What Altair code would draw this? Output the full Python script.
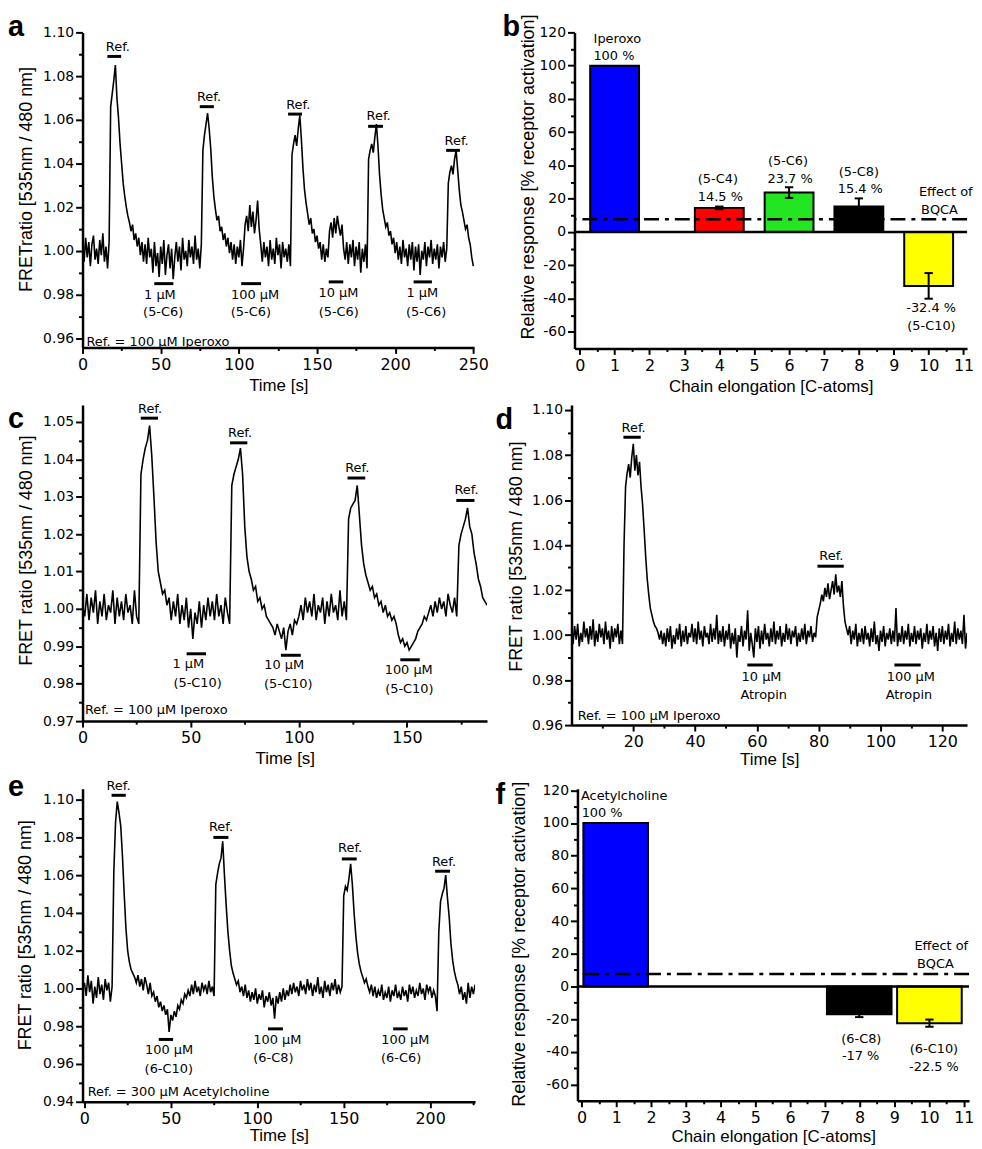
import altair as alt
import pandas as pd

FONT_T = "Liberation Sans"
FONT_L = "DejaVu Sans"

# ---------------- traces (FRET ratio) ----------------
a_dt = 1.0
a_vals = [
    1.002, 0.995, 1.006, 0.997, 1.004, 0.993, 1.003, 1.007, 0.996, 1.001,
    0.994, 1.005, 0.998, 1.008, 0.995, 1.002, 0.992, 1.004, 1.066, 1.072,
    1.078, 1.085, 1.070, 1.061, 1.049, 1.040, 1.031, 1.025, 1.020, 1.016,
    1.013, 1.009, 1.012, 1.005, 1.008, 1.002, 1.006, 0.998, 1.004, 0.995,
    1.003, 0.994, 1.006, 0.997, 1.001, 0.990, 1.004, 0.993, 0.999, 0.988,
    1.002, 0.994, 1.005, 0.989, 0.998, 1.003, 0.992, 1.001, 0.987, 0.997,
    1.004, 0.995, 1.002, 0.991, 1.006, 0.996, 1.000, 0.993, 1.005, 0.997,
    1.002, 0.994, 1.007, 0.996, 1.001, 0.992, 1.003, 1.046, 1.053, 1.058,
    1.063, 1.056, 1.047, 1.034, 1.025, 1.019, 1.014, 1.016, 1.009, 1.011,
    1.005, 1.008, 1.002, 1.006, 0.999, 1.004, 0.996, 1.003, 0.994, 1.002,
    0.997, 1.005, 0.993, 1.001, 1.012, 1.016, 1.009, 1.021, 1.011, 1.018,
    1.008, 1.014, 1.023, 1.010, 1.003, 0.995, 1.004, 0.997, 1.002, 0.993,
    1.005, 0.996, 1.001, 0.994, 1.006, 0.998, 1.003, 0.992, 1.004, 0.997,
    1.001, 0.995, 1.003, 0.993, 1.044, 1.049, 1.053, 1.048, 1.056, 1.062,
    1.051, 1.038, 1.028, 1.022, 1.017, 1.012, 1.015, 1.008, 1.010, 1.004,
    1.007, 1.001, 1.004, 0.996, 1.003, 0.995, 1.001, 0.997, 1.009, 1.013,
    1.006, 1.015, 1.008, 1.016, 1.011, 1.007, 1.012, 1.001, 0.996, 1.004,
    0.994, 1.003, 0.997, 1.005, 0.993, 1.002, 0.996, 1.004, 0.990, 1.001,
    0.995, 1.003, 0.992, 1.042, 1.046, 1.049, 1.045, 1.052, 1.058, 1.048,
    1.035, 1.026, 1.019, 1.015, 1.011, 1.013, 1.007, 1.009, 1.003, 1.006,
    0.999, 1.004, 0.996, 1.002, 0.994, 1.005, 0.997, 1.001, 0.993, 1.003,
    0.996, 1.004, 0.991, 1.002, 0.995, 1.003, 0.989, 1.000, 0.996, 1.004,
    0.993, 1.002, 0.997, 1.005, 0.994, 1.001, 0.996, 1.003, 0.992, 1.002,
    0.997, 1.004, 0.995, 1.001, 1.031, 1.036, 1.039, 1.035, 1.042, 1.046,
    1.037, 1.028, 1.021, 1.018, 1.014, 1.010, 1.012, 1.006, 1.003, 0.997,
    0.993,
]

c_dt = 1.0
c_vals = [
    1.001, 0.998, 1.004, 0.997, 1.003, 0.999, 1.005, 0.996, 1.002, 0.998,
    1.004, 0.997, 1.001, 0.999, 1.005, 0.996, 1.003, 0.998, 1.002, 0.997,
    1.004, 0.999, 1.001, 0.996, 1.005, 0.998, 0.996, 1.036, 1.040, 1.043,
    1.045, 1.049, 1.041, 1.030, 1.018, 1.010, 1.007, 1.004, 1.005, 1.001,
    1.003, 0.997, 1.002, 0.998, 1.004, 0.996, 1.001, 0.997, 1.003, 0.995,
    1.000, 0.992, 0.999, 0.996, 1.002, 0.995, 1.001, 0.997, 1.003, 0.998,
    1.002, 0.997, 1.004, 0.998, 1.001, 0.996, 1.003, 0.999, 0.996, 1.033,
    1.036, 1.038, 1.040, 1.043, 1.036, 1.022, 1.014, 1.010, 1.008, 1.005,
    1.006, 1.002, 1.003, 1.000, 1.001, 0.998, 0.997, 0.996, 0.995, 0.993,
    0.996, 0.994, 0.992, 0.995, 0.989, 0.994, 0.996, 0.993, 0.997, 0.996,
    0.998, 1.001, 0.997, 1.003, 0.999, 1.002, 0.998, 1.004, 0.997, 1.001,
    0.999, 1.003, 0.996, 1.002, 0.998, 1.004, 0.999, 1.001, 0.997, 1.005,
    0.998, 1.002, 0.997, 1.024, 1.027, 1.028, 1.029, 1.033, 1.025, 1.017,
    1.012, 1.009, 1.007, 1.005, 1.006, 1.003, 1.004, 1.001, 1.002, 0.999,
    1.001, 0.998, 0.999, 0.997, 0.998, 0.996, 0.993, 0.991, 0.992, 0.990,
    0.991, 0.989, 0.990, 0.991, 0.992, 0.994, 0.995, 0.996, 0.998, 0.997,
    0.999, 1.001, 0.998, 1.002, 0.999, 1.003, 1.000, 1.002, 0.998, 1.004,
    1.001, 0.999, 1.003, 0.998, 1.017, 1.020, 1.022, 1.024, 1.027, 1.022,
    1.020, 1.015, 1.012, 1.008, 1.006, 1.003, 1.002, 1.001,
]

d_dt = 0.5
d_vals = [
    1.002, 0.996, 1.004, 0.998, 1.005, 0.995, 1.001, 0.997, 1.006, 0.999,
    1.003, 0.996, 1.004, 0.998, 1.007, 0.995, 1.002, 0.997, 1.005, 0.999,
    1.003, 0.996, 1.006, 0.998, 1.002, 0.994, 1.004, 0.997, 1.003, 0.999,
    1.005, 0.996, 1.002, 0.996, 1.040, 1.066, 1.072, 1.076, 1.070, 1.079,
    1.085, 1.073, 1.080, 1.071, 1.077, 1.066, 1.058, 1.047, 1.035, 1.025,
    1.018, 1.012, 1.009, 1.006, 1.004, 1.003, 1.001, 0.998, 1.002, 0.996,
    1.001, 0.995, 1.003, 0.997, 1.004, 0.994, 1.000, 0.996, 1.003, 0.998,
    1.005, 0.995, 1.002, 0.997, 1.004, 0.996, 1.001, 0.999, 1.005, 0.997,
    1.003, 0.996, 1.006, 0.998, 1.002, 0.995, 1.004, 0.999, 1.001, 0.996,
    1.005, 0.997, 1.003, 0.998, 1.009, 0.996, 1.002, 0.997, 1.004, 0.995,
    1.002, 0.998, 1.005, 0.994, 1.001, 0.996, 1.003, 0.990, 1.000, 0.997,
    1.004, 0.995, 1.002, 0.998, 1.011, 0.993, 1.001, 0.996, 0.990, 1.003,
    0.997, 1.004, 0.994, 1.002, 0.996, 1.005, 0.998, 1.001, 0.995, 1.003,
    0.997, 1.006, 0.996, 1.002, 0.998, 1.004, 0.995, 1.001, 0.997, 1.005,
    0.998, 1.003, 0.996, 1.002, 0.999, 1.004, 0.995, 1.001, 0.997, 1.003,
    0.998, 1.005, 0.996, 1.002, 0.999, 1.004, 0.997, 1.001, 0.999, 1.008,
    1.011, 1.014, 1.018, 1.015, 1.021, 1.017, 1.023, 1.016, 1.020, 1.024,
    1.018, 1.027, 1.019, 1.022, 1.017, 1.024, 1.013, 1.006, 1.003, 1.000,
    1.004, 0.996, 1.002, 0.998, 1.005, 0.995, 1.001, 0.997, 1.003, 0.996,
    1.004, 0.998, 1.001, 0.995, 1.003, 0.997, 1.006, 0.996, 1.000, 0.993,
    1.002, 0.997, 1.004, 0.995, 1.001, 0.998, 1.003, 0.996, 1.002, 0.997,
    1.012, 0.995, 1.001, 0.997, 1.004, 0.996, 1.002, 0.998, 1.005, 0.995,
    1.001, 0.997, 1.004, 0.996, 1.002, 0.998, 1.003, 0.994, 1.001, 0.997,
    1.005, 0.996, 1.002, 0.998, 1.004, 0.995, 1.001, 0.993, 1.003, 0.997,
    1.004, 0.996, 1.002, 0.998, 1.005, 0.995, 1.001, 0.997, 1.006, 0.996,
    1.003, 0.998, 1.002, 0.996, 1.009, 0.994, 1.001,
]

e_dt = 1.0
e_vals = [
    1.003, 0.996, 1.007, 0.998, 1.004, 0.992, 1.001, 0.995, 1.006, 0.997,
    1.002, 0.994, 1.005, 0.999, 1.003, 0.993, 1.001, 1.062, 1.088, 1.099,
    1.093, 1.086, 1.070, 1.050, 1.032, 1.020, 1.014, 1.010, 1.008, 1.006,
    1.003, 1.007, 1.001, 1.005, 0.999, 1.006, 1.002, 0.997, 1.003, 0.996,
    0.998, 0.993, 0.996, 0.990, 0.993, 0.988, 0.991, 0.986, 0.989, 0.977,
    0.986, 0.983, 0.988, 0.985, 0.991, 0.989, 0.994, 0.992, 0.997, 0.995,
    0.999, 0.996, 1.002, 0.997, 1.004, 0.998, 1.001, 0.996, 1.003, 0.999,
    1.002, 0.997, 1.004, 0.998, 1.001, 0.996, 1.055, 1.061, 1.066, 1.069,
    1.078, 1.060, 1.044, 1.030, 1.020, 1.012, 1.008, 1.005, 1.002, 1.004,
    0.998, 1.001, 0.996, 1.002, 0.995, 0.999, 0.993, 0.998, 0.994, 1.000,
    0.992, 0.997, 0.994, 0.999, 0.990, 0.996, 0.993, 0.998, 0.991, 0.995,
    0.984, 0.996, 0.992, 0.998, 0.993, 1.000, 0.994, 0.999, 0.996, 1.002,
    0.997, 1.003, 0.998, 1.001, 0.996, 1.004, 0.999, 1.002, 0.997, 1.005,
    0.999, 1.003, 0.996, 1.002, 0.998, 1.006, 0.997, 1.001, 0.995, 1.004,
    0.998, 1.002, 0.996, 1.003, 0.999, 1.005, 0.997, 1.002, 0.998, 1.001,
    1.049, 1.054, 1.052, 1.058, 1.066, 1.055, 1.040, 1.028, 1.019, 1.013,
    1.009, 1.006, 1.003, 1.005, 1.001, 0.998, 1.002, 0.996, 1.001, 0.995,
    0.999, 0.996, 1.002, 0.994, 0.998, 0.995, 1.001, 0.993, 0.999, 0.996,
    1.002, 0.995, 0.998, 0.994, 1.001, 0.996, 0.999, 0.993, 1.002, 0.997,
    1.001, 0.995, 0.999, 0.996, 1.003, 0.997, 1.000, 0.994, 1.002, 0.998,
    1.001, 0.995, 0.999, 0.996, 0.988, 1.030, 1.046, 1.050, 1.053, 1.060,
    1.048, 1.038, 1.024, 1.015, 1.009, 1.005, 1.002, 0.997, 1.001, 0.994,
    0.998, 0.992, 1.003, 0.995, 1.001, 0.997, 1.002,
]

# ---------------- annotations (data units) ----------------
a_ref_bars = [(15.9, 24.7, 1.089), (75.0, 84.0, 1.066), (131.5, 140.4, 1.0626),
              (182.7, 192.2, 1.057), (232.6, 241.4, 1.046)]
a_drug_bars = [(45.9, 58.1, 0.985), (101.5, 114.2, 0.985), (157.5, 166.8, 0.9858),
               (211.8, 223.5, 0.9858)]
a_labels = [("Ref.", 22.6, 1.0931), ("Ref.", 80.9, 1.0705), ("Ref.", 138.0, 1.0669),
            ("Ref.", 189.4, 1.0615), ("Ref.", 239.3, 1.0503),
            ("1 µM", 49.5, 0.980), ("(5-C6)", 51.6, 0.9718),
            ("100 µM", 110.4, 0.980), ("(5-C6)", 107.7, 0.9718),
            ("10 µM", 163.7, 0.9805), ("(5-C6)", 163.9, 0.9722),
            ("1 µM", 217.4, 0.9805), ("(5-C6)", 219.8, 0.9722)]
a_note = [("Ref. = 100 µM Iperoxo", 2.5, 0.9585)]

c_ref_bars = [(26.9, 34.9, 1.051), (68.2, 76.2, 1.0444), (122.5, 130.7, 1.035),
              (172.8, 181.2, 1.029)]
c_drug_bars = [(48.1, 57.1, 0.988), (91.7, 100.9, 0.9876), (146.9, 155.9, 0.9864)]
c_labels = [("Ref.", 31.2, 1.0535), ("Ref.", 72.8, 1.047), ("Ref.", 127.0, 1.0376),
            ("Ref.", 177.5, 1.0319),
            ("1 µM", 48.9, 0.9853), ("(5-C10)", 53.2, 0.9802),
            ("10 µM", 93.2, 0.985), ("(5-C10)", 95.1, 0.9799),
            ("100 µM", 150.8, 0.9837), ("(5-C10)", 151.1, 0.9786)]
c_note = [("Ref. = 100 µM Iperoxo", 1.1, 0.9729)]

d_ref_bars = [(16.8, 22.4, 1.0879), (79.6, 88.1, 1.0306)]
d_drug_bars = [(56.9, 65.1, 0.9867), (104.5, 113.0, 0.9867)]
d_labels = [("Ref.", 20.1, 1.0919), ("Ref.", 84.1, 1.0353),
            ("10 µM", 61.5, 0.9815), ("Atropin", 62.2, 0.9734),
            ("100 µM", 109.8, 0.9815), ("Atropin", 109.2, 0.9734)]
d_note = [("Ref. = 100 µM Iperoxo", 2.0, 0.9641)]

e_ref_bars = [(15.7, 23.9, 1.1023), (74.6, 83.3, 1.080), (148.9, 157.5, 1.0686),
              (202.9, 211.5, 1.0621)]
e_drug_bars = [(43.0, 51.3, 0.973), (106.2, 114.8, 0.9786), (178.6, 187.0, 0.9786)]
e_labels = [("Ref.", 19.7, 1.107), ("Ref.", 79.0, 1.0856), ("Ref.", 153.7, 1.0742),
            ("Ref.", 208.0, 1.0672),
            ("100 µM", 49.0, 0.9672), ("(6-C10)", 48.8, 0.9575),
            ("100 µM", 111.6, 0.9728), ("(6-C8)", 109.3, 0.9632),
            ("100 µM", 185.6, 0.9728), ("(6-C6)", 183.2, 0.9632)]
e_note = [("Ref. = 300 µM Acetylcholine", 1.9, 0.9453)]

# ---------------- bar panels ----------------
b_names = ["Iperoxo", "5-C4", "5-C6", "5-C8", "5-C10"]
b_pos = [1, 4, 6, 8, 10]
b_vals = [100.0, 14.5, 23.7, 15.4, -32.4]
b_err = [0.0, 0.8, 3.2, 4.8, 7.7]
b_colors = ["#0000ff", "#ff0000", "#22e622", "#000000", "#ffff00"]
b_bqca = 7.7
b_labels = [("Iperoxo", 1.08, 115.9), ("100 %", 0.98, 105.5),
            ("(5-C4)", 3.96, 32.0), ("14.5 %", 4.03, 21.3),
            ("(5-C6)", 5.97, 42.7), ("23.7 %", 6.03, 32.0),
            ("(5-C8)", 8.0, 36.2), ("15.4 %", 8.04, 25.6),
            ("Effect of", 10.49, 24.3), ("BQCA", 10.31, 13.3),
            ("-32.4 %", 10.07, -45.5), ("(5-C10)", 10.08, -56.3)]
b_labels_left = []

f_names = ["Acetylcholine", "6-C8", "6-C10"]
f_pos = [0.98, 7.99, 10.01]
f_vals = [100.0, -17.0, -22.5]
f_err = [0.0, 1.8, 2.2]
f_colors = ["#0000ff", "#000000", "#ffff00"]
f_bqca = 7.6
f_labels = [("(6-C8)", 8.05, -32.0), ("-17 %", 8.03, -42.4),
            ("(6-C10)", 10.14, -38.4), ("-22.5 %", 10.14, -49.4),
            ("Effect of", 10.35, 24.6), ("BQCA", 10.18, 13.6)]
f_labels_left = [("Acetylcholine", -0.02, 116.6), ("100 %", 0.0, 106.0)]

# tick values
t_x_a = list(range(0, 251, 25))
t_x_c = list(range(0, 176, 25))
t_x_d = list(range(10, 121, 10))
t_x_e = list(range(0, 226, 25))
t_x_bar = [i * 0.5 for i in range(23)]
t_y_a = [round(0.96 + 0.01 * i, 3) for i in range(15)]
t_y_c = [round(0.97 + 0.005 * i, 3) for i in range(17)]
t_y_d = [round(0.96 + 0.01 * i, 3) for i in range(15)]
t_y_e = [round(0.94 + 0.01 * i, 3) for i in range(17)]
t_y_bar = list(range(-60, 121, 10))

Y_TITLE_T = "FRET ratio [535nm / 480 nm]"
Y_TITLE_A = "FRETratio [535nm / 480 nm]"
Y_TITLE_B = "Relative response [% receptor activation]"
X_TITLE_T = "Time [s]"
X_TITLE_B = "Chain elongation [C-atoms]"


def x_axis(values, test, title, ty):
    return alt.Axis(values=values, title=title, titleY=ty, titleBaseline="middle",
                    tickSize={"condition": {"test": test, "value": 6}, "value": 3},
                    labelExpr=f"({test}) ? '' + datum.value : ''")


def y_axis(values, test, expr, title, tx, ty):
    return alt.Axis(values=values, title=title, titleX=tx, titleY=ty,
                    titleBaseline="middle", titleAngle=270,
                    tickSize={"condition": {"test": test, "value": 7}, "value": 4},
                    labelExpr=f"({test}) ? {expr} : ''")


def letter(ch, dx, dy):
    return alt.Chart(pd.DataFrame({"t": [ch]})).mark_text(
        font=FONT_T, fontSize=29, fontWeight="bold", align="left",
        baseline="alphabetic", color="black"
    ).encode(x=alt.value(dx), y=alt.value(dy), text="t:N")


def trace_panel(vals, dt, xdom, ydom, w, h, xax, yax, ref_bars, drug_bars,
                labels, note, let):
    sx = alt.Scale(domain=xdom, nice=False, zero=False)
    sy = alt.Scale(domain=ydom, nice=False, zero=False)
    X = alt.X("x:Q", scale=sx, axis=xax)
    Y = alt.Y("y:Q", scale=sy, axis=yax)
    df = pd.DataFrame({"x": [round(i * dt, 2) for i in range(len(vals))], "y": vals})
    line = alt.Chart(df).mark_line(color="black", strokeWidth=1.6, clip=True,
                                   strokeJoin="miter").encode(x=X, y=Y)
    bars_df = pd.DataFrame(ref_bars + drug_bars, columns=["x", "x2", "y"])
    bars = alt.Chart(bars_df).mark_rule(color="black", strokeWidth=3).encode(
        x=X, x2="x2:Q", y=Y)
    lab_df = pd.DataFrame(labels, columns=["t", "x", "y"])
    labs = alt.Chart(lab_df).mark_text(font=FONT_L, fontSize=13, color="black",
                                       align="center", baseline="middle").encode(
        x=X, y=Y, text="t:N")
    note_df = pd.DataFrame(note, columns=["t", "x", "y"])
    nt = alt.Chart(note_df).mark_text(font=FONT_L, fontSize=13, color="black",
                                      align="left", baseline="middle").encode(
        x=X, y=Y, text="t:N")
    return alt.layer(line, bars, labs, nt, letter(*let)).properties(width=w, height=h)


def bar_panel(names, pos, vals, err, colors, bqca, labels, labels_left, half_w,
              xdom, ydom, w, h, xax, yax, let):
    sx = alt.Scale(domain=xdom, nice=False, zero=False)
    sy = alt.Scale(domain=ydom, nice=False, zero=False)
    X = alt.X("x:Q", scale=sx, axis=xax)
    Y = alt.Y("y:Q", scale=sy, axis=yax)
    df = pd.DataFrame({"name": names, "c": pos, "v": vals, "e": err})
    df["x"] = df["c"] - half_w
    df["x2"] = df["c"] + half_w
    df["y"] = df["v"]
    df["base"] = 0.0
    bars = alt.Chart(df).mark_bar(stroke="black", strokeWidth=2, opacity=1).encode(
        x=X, x2="x2:Q", y=Y, y2="base:Q",
        color=alt.Color("name:N", scale=alt.Scale(domain=names, range=colors), legend=None))
    edf = df[df["e"] > 0].copy()
    edf["x"] = edf["c"]
    edf["y"] = edf["v"] - edf["e"]
    edf["y2"] = edf["v"] + edf["e"]
    ebar = alt.Chart(edf).mark_rule(color="black", strokeWidth=2).encode(
        x=X, y=Y, y2="y2:Q")
    caps = pd.concat([
        pd.DataFrame({"x": edf["c"] - 0.12, "x2": edf["c"] + 0.12, "y": edf["v"] + edf["e"]}),
        pd.DataFrame({"x": edf["c"] - 0.12, "x2": edf["c"] + 0.12, "y": edf["v"] - edf["e"]}),
    ])
    cap = alt.Chart(caps).mark_rule(color="black", strokeWidth=2).encode(
        x=X, x2="x2:Q", y=Y)
    zero = alt.Chart(pd.DataFrame({"y": [0.0]})).mark_rule(
        color="black", strokeWidth=2.5).encode(y=Y)
    dash = alt.Chart(pd.DataFrame({"y": [bqca]})).mark_rule(
        color="black", strokeWidth=2.5, strokeDash=[15, 6, 4, 6]).encode(y=Y)
    lab = alt.Chart(pd.DataFrame(labels, columns=["t", "x", "y"])).mark_text(
        font=FONT_L, fontSize=13, color="black", align="center", baseline="middle"
    ).encode(x=X, y=Y, text="t:N")
    layers = [bars, ebar, cap, zero, dash, lab]
    if labels_left:
        labl = alt.Chart(pd.DataFrame(labels_left, columns=["t", "x", "y"])).mark_text(
            font=FONT_L, fontSize=13, color="black", align="left", baseline="middle"
        ).encode(x=X, y=Y, text="t:N")
        layers.append(labl)
    layers.append(letter(*let))
    return alt.layer(*layers).properties(width=w, height=h)


T50 = "datum.value % 50 === 0"
T20 = "datum.value % 20 === 0"
T1 = "datum.value % 1 === 0"
TY2 = "round(datum.value * 100) % 2 === 0"
TY1 = "round(datum.value * 1000) % 10 === 0"
FMT2 = "format(datum.value, '.2f')"
INT = "'' + datum.value"

pa = trace_panel(a_vals, a_dt, [0, 250.5], [0.9558, 1.10], 394, 317,
                 x_axis(t_x_a, T50, X_TITLE_T, 38),
                 y_axis(t_y_a, TY2, FMT2, Y_TITLE_A, -56, 147.5),
                 a_ref_bars, a_drug_bars, a_labels, a_note, ("a", -75, 4))
pb = bar_panel(b_names, b_pos, b_vals, b_err, b_colors, b_bqca, b_labels, b_labels_left,
               0.7, [-0.15, 11.1], [-70, 120], 395, 318,
               x_axis(t_x_bar, T1, X_TITLE_B, 38),
               y_axis(t_y_bar, T20, INT, Y_TITLE_B, -46, 145),
               ("b", -72.5, 4))
pc = trace_panel(c_vals, c_dt, [0, 187], [0.97, 1.0545], 407, 318,
                 x_axis(t_x_c, T50, X_TITLE_T, 38),
                 y_axis(t_y_c, TY1, FMT2, Y_TITLE_T, -56, 146),
                 c_ref_bars, c_drug_bars, c_labels, c_note, ("c", -75, 23))
pd_ = trace_panel(d_vals, d_dt, [0, 128], [0.96, 1.1022], 398, 322,
                  x_axis(t_x_d, T20, X_TITLE_T, 35),
                  y_axis(t_y_d, TY2, FMT2, Y_TITLE_T, -55.5, 152),
                  d_ref_bars, d_drug_bars, d_labels, d_note, ("d", -76.5, 24))
pe = trace_panel(e_vals, e_dt, [-1.1, 226], [0.94, 1.1058], 395, 315,
                 x_axis(t_x_e, T50, X_TITLE_T, 34),
                 y_axis(t_y_e, TY2, FMT2, Y_TITLE_T, -57.5, 147),
                 e_ref_bars, e_drug_bars, e_labels, e_note, ("e", -75, 7))
pf = bar_panel(f_names, f_pos, f_vals, f_err, f_colors, f_bqca, f_labels, f_labels_left,
               0.93, [-0.12, 11.15], [-70, 121], 394, 314,
               x_axis(t_x_bar, T1, X_TITLE_B, 36),
               y_axis(t_y_bar, T20, INT, Y_TITLE_B, -58.5, 156),
               ("f", -82.5, 15))

row1 = alt.hconcat(pa, pb, spacing=101, bounds="flush")
row2 = alt.hconcat(pc, pd_, spacing=85, bounds="flush")
row3 = alt.hconcat(pe, pf, spacing=103, bounds="flush")

lower = alt.vconcat(row2, row3, spacing=5).resolve_scale(color="independent")

chart = alt.vconcat(
    row1, lower, spacing=8
).resolve_scale(color="independent").properties(
    padding={"left": 0, "top": 2, "right": 0, "bottom": 0}
).configure_view(stroke=None).configure_axis(
    domainColor="black", domainWidth=2.5, tickColor="black", tickWidth=2,
    labelColor="black", titleColor="black", labelFont=FONT_L, titleFont=FONT_T,
    titleFontWeight="normal", grid=False, labelOverlap=False, labelFlush=False,
).configure_axisX(labelFontSize=16, titleFontSize=17, labelPadding=3).configure_axisY(
    labelFontSize=14, titleFontSize=18, labelPadding=2)

chart.save("out.html", embed_options={"renderer": "svg", "actions": False})
